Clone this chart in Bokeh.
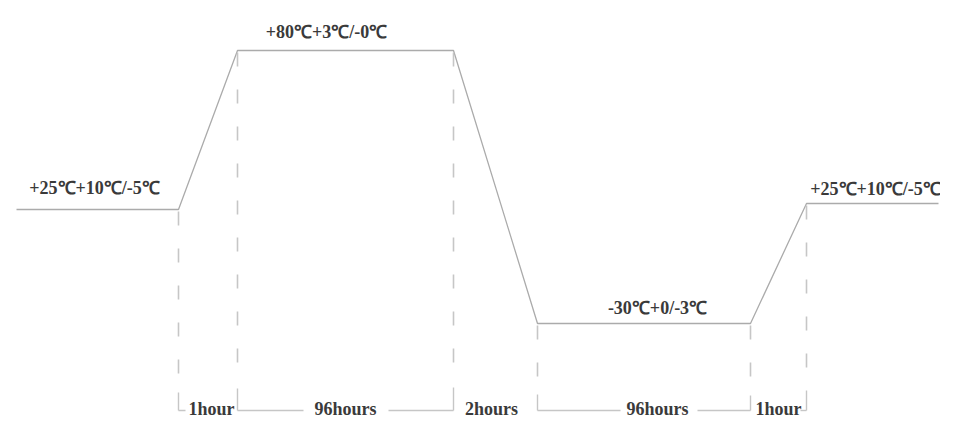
from bokeh.plotting import figure
from bokeh.models import Range1d
from bokeh.core.properties import value
from bokeh.embed import file_html
from bokeh.resources import INLINE

# ---- data (schematic profile) ----
# breakpoints of the temperature profile along the (schematic) time axis
profile_x = [16, 178, 237, 453, 537, 750, 806, 938]
# schematic level of each breakpoint (down = colder)
profile_y = [209, 209, 50, 50, 323, 323, 203, 203]

# temperature plateau labels
level_labels = ["+25℃+10℃/-5℃", "+80℃+3℃/-0℃", "-30℃+0/-3℃", "+25℃+10℃/-5℃"]
level_label_x = [94, 326, 657, 875]
level_label_y = [187, 31, 307, 188]

# durations between breakpoints
duration_labels = ["1hour", "96hours", "2hours", "96hours", "1hour"]
duration_label_x = [211, 345, 491, 657, 778]
duration_label_y = 408

# stage boundaries (dashed guide lines) and their bottom
stage_x = [178, 237, 453, 537, 750, 806]
stage_top = [209, 50, 50, 323, 323, 203]
bracket_y = 410
bracket_top = [392, 388, 387, 394, 395, 390]

# horizontal bracket pieces (left, right)
bracket_x0 = [178, 237, 388, 537, 697, 800]
bracket_x1 = [185, 303, 453, 620, 750, 806]

W, H = 940, 420
p = figure(width=W, height=H, output_backend="svg", toolbar_location=None,
           x_range=Range1d(0, W), y_range=Range1d(H, 0),
           min_border=0, outline_line_color=None)
p.axis.visible = False
p.grid.visible = False
p.background_fill_color = "white"
p.border_fill_color = "white"

line_col = "#ababab"
dash_col = "#c6c6c6"

# profile
p.line(profile_x, profile_y, line_color=line_col, line_width=1.3)

# dashed guides
p.segment(x0=stage_x, y0=[t + 2 for t in stage_top], x1=stage_x, y1=[380] * len(stage_x),
          line_color=dash_col, line_width=1.6, line_dash="14 23")
# bracket ticks
p.segment(x0=stage_x, y0=bracket_top, x1=stage_x, y1=[bracket_y] * len(stage_x),
          line_color=dash_col, line_width=1.4)
# bracket horizontals
p.segment(x0=bracket_x0, y0=[bracket_y] * len(bracket_x0), x1=bracket_x1,
          y1=[bracket_y] * len(bracket_x0), line_color=dash_col, line_width=1.4)

font = value("Liberation Serif")
p.text(x=level_label_x, y=level_label_y, text=level_labels, text_font=font,
       text_font_size="18px", text_font_style="bold", text_color="#3a3a3a",
       text_align="center", text_baseline="middle")
p.text(x=duration_label_x, y=[duration_label_y] * len(duration_labels), text=duration_labels,
       text_font=font, text_font_size="18px", text_font_style="bold",
       text_color="#3a3a3a", text_align="center", text_baseline="middle")

open("out.html", "w").write(file_html(p, INLINE))
